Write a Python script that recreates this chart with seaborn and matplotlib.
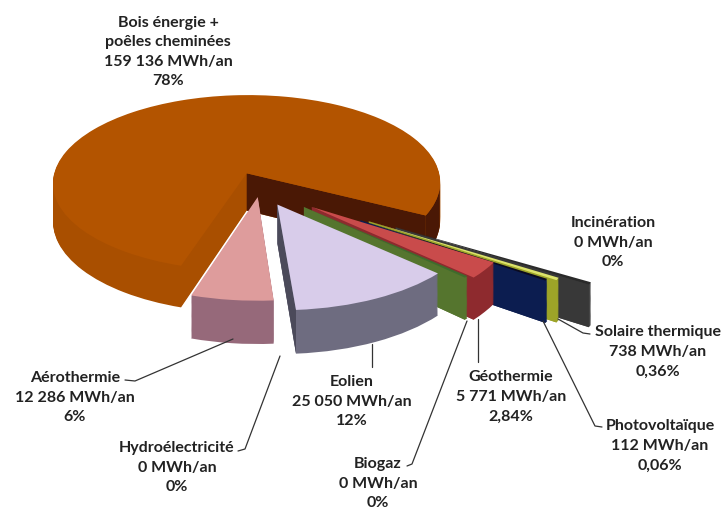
"""
Renewable energy production by source, drawn as an exploded 3D pie.
"""

import numpy as np
import matplotlib
matplotlib.use("Agg")
import matplotlib.pyplot as plt
from matplotlib.transforms import Transform
import seaborn as sns

sources = ["Bois énergie +\npoêles cheminées", "Aérothermie", "Hydroélectricité", "Eolien", "Biogaz",
           "Géothermie", "Photovoltaïque", "Solaire thermique", "Incinération"]
energy = ["159 136", "12 286", "0", "25 050", "0", "5 771", "112", "738", "0"]
shares = [78, 6, 0, 12, 0, 2.84, 0.06, 0.36, 0]
share_labels = ["78%", "6%", "0%", "12%", "0%", "2,84%", "0,06%", "0,36%", "0%"]

# styling per slice, same order as sources
min_visible = [0, 0, 0, 0, 0.3, 0, 0.3, 0.4, 0.4]
explode = [0.18, 0.1, 0, 0.2, 0.3, 0.33, 0.6, 0.64, 0.78]
swing = [0, 0, 0, 0, 1, 2, 4, 4, 4]  # extra clockwise turn, degrees
draw_rank = [0, 8, 7, 6, 5, 4, 3, 2, 1]
top_colors = ["#B35400", "#DE9C9C", "#FFFFFF", "#D8CCEA", "#3F6B2C", "#C94B4B", "#0A0A20", "#DCE36A", "#2A2A2A"]
side_colors = ["#A94F00", "#96697A", "#FFFFFF", "#6E6C80", "#55752E", "#8E2A2E", "#0C1D50", "#9DA428", "#454545"]
cut_colors = ["#4A1805", "#96697A", "#FFFFFF", "#4B4A5A", "#55752E", "#8E2A2E", "#0C1D50", "#9DA428", "#383838"]

label_pos = [(168, 52), (75, 398), (177, 468), (352, 402), (378, 484), (511, 397), (660, 446), (658, 352), (613, 243)]
leaders = [[(125, 381), (135, 382), (233, 340)], [(238, 452), (245, 450), (280, 357)], [(372, 368), (372, 345)],
           [(407, 467), (412, 465), (467, 322)], [(478, 363), (478, 320)], [(602, 428), (595, 427), (543, 322)],
           [(590, 335), (583, 334), (558, 320)]]

CX, CY, RX, RY, DEPTH, PERSP = 260, 189, 196, 90, 38, 9.0


def project(x, y, z):
    s = PERSP / (PERSP + y)
    return CX + RX * x * s, CY - RY * y * s + DEPTH * z * s


class Tilt(Transform):
    input_dims = 2
    output_dims = 2

    def __init__(self, z):
        super().__init__()
        self.z = z

    def transform_non_affine(self, values):
        values = np.asarray(values, dtype=float)
        return np.column_stack(project(values[:, 0], values[:, 1], self.z))


def turn_wedge(w, degrees):
    a = np.radians(-degrees)
    x, y = w.center
    w.set_center((x * np.cos(a) - y * np.sin(a), x * np.sin(a) + y * np.cos(a)))
    w.set_theta1(w.theta1 - degrees)
    w.set_theta2(w.theta2 - degrees)


sns.set_style("white")
plt.rcParams["font.family"] = ["Lato", "DejaVu Sans"]

fig = plt.figure(figsize=(7.24, 5.10), dpi=100)
ax = fig.add_axes([0, 0, 1, 1])

shown = np.maximum(shares, min_visible)
levels = np.linspace(1, 0, 41)
for i, z in enumerate(levels):
    wedges, _ = ax.pie(shown, explode=explode, startangle=-27.5,
                       wedgeprops={"transform": Tilt(z) + ax.transData, "linewidth": 0})
    for k, w in enumerate(wedges):
        turn_wedge(w, swing[k])
        w.set_facecolor(top_colors[k] if z == 0 else side_colors[k])
        w.set_zorder(draw_rank[k] * 100 + i)

# the cut face on the clockwise edge of each slice
for k, w in enumerate(wedges):
    if shown[k] == 0 or k == 1:
        continue
    t = np.radians(w.theta1)
    x0, y0 = w.center
    x1, y1 = x0 + w.r * np.cos(t), y0 + w.r * np.sin(t)
    corners = [project(x0, y0, 0), project(x1, y1, 0), project(x1, y1, 1), project(x0, y0, 1)]
    ax.fill(*zip(*corners), color=cut_colors[k], lw=0, zorder=draw_rank[k] * 100 + 39)

# dark end of the big slice's rim
w = wedges[0]
arc = np.radians(np.linspace(w.theta1, w.theta1 + 18, 20))
rim_x, rim_y = w.center[0] + np.cos(arc), w.center[1] + np.sin(arc)
upper = project(rim_x, rim_y, 0)
lower = project(rim_x, rim_y, 1)
ax.fill(np.r_[upper[0], lower[0][::-1]], np.r_[upper[1], lower[1][::-1]], color=cut_colors[0], lw=0, zorder=39)

for line in leaders:
    ax.plot(*zip(*line), color="#333333", lw=0.9, zorder=2000)

for k, src in enumerate(sources):
    txt = f"{src}\n{energy[k]} MWh/an\n{share_labels[k]}"
    ax.text(*label_pos[k], txt, ha="center", va="center", fontsize=11.5, fontweight="bold",
            color="#222222", linespacing=1.5, zorder=2100, clip_on=False)

ax.set_xlim(0, 724)
ax.set_ylim(510, 0)
ax.set_aspect("auto")
ax.axis("off")

fig.savefig("out.png", dpi=100)
plt.close(fig)
